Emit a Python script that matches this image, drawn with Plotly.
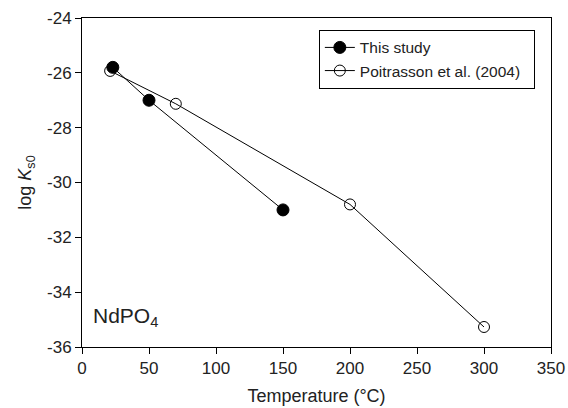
import plotly.graph_objects as go

this_T = [23, 50, 150]
this_logK = [-25.8, -27.0, -31.0]
poit_T = [21, 70, 200, 300]
poit_logK = [-25.93, -27.13, -30.8, -35.27]

x_ticks = [0, 50, 100, 150, 200, 250, 300, 350]
y_ticks = [-36, -34, -32, -30, -28, -26, -24]
y_tick_labels = ["-36", "-34", "-32", "-30", "-28", "-26", "-24"]

FONT = "Liberation Sans, Arial, sans-serif"

fig = go.Figure()
fig.add_trace(go.Scatter(x=this_T, y=this_logK, mode="lines+markers", name="This study",
                         line=dict(color="black", width=1),
                         marker=dict(symbol="circle", size=12, color="black", line=dict(color="black", width=1))))
fig.add_trace(go.Scatter(x=poit_T, y=poit_logK, mode="lines+markers", name="Poitrasson et al. (2004)\u00a0\u00a0",
                         line=dict(color="black", width=1),
                         marker=dict(symbol="circle-open", size=11, color="black", line=dict(color="black", width=1))))

axis_common = dict(showgrid=False, zeroline=False, showline=True, linecolor="black", linewidth=1,
                   mirror=True, ticks="outside", ticklen=6, tickcolor="black", automargin=False,
                   tickfont=dict(family=FONT, size=17, color="#222"))
fig.update_xaxes(range=[0, 350], tickvals=x_ticks,
                 title=dict(text="Temperature (°C)", font=dict(family=FONT, size=18, color="#222"), standoff=11),
                 **axis_common)
fig.update_yaxes(range=[-36, -24], tickvals=y_ticks, ticktext=y_tick_labels,
                 title=dict(text="log <i>K</i><sub>s0</sub>", font=dict(family=FONT, size=18, color="#222"), standoff=10),
                 **axis_common)

fig.add_annotation(x=0.02, y=0.045, xref="paper", yref="paper", xanchor="left", yanchor="bottom",
                   text="NdPO<sub>4</sub>", showarrow=False,
                   font=dict(family=FONT, size=21, color="#222"))

fig.update_layout(width=568, height=408, margin=dict(l=82, r=17, t=18, b=61),
                  plot_bgcolor="white", paper_bgcolor="white",
                  legend=dict(x=0.505, y=0.964, xanchor="left", yanchor="top", bordercolor="black", borderwidth=1,
                              bgcolor="white", font=dict(family=FONT, size=15.5, color="#222"),
                              tracegroupgap=0, itemwidth=30))
fig.write_html("out.html", config={"displayModeBar": False},
               post_script="document.body.style.margin='0';document.body.style.padding='0';")
